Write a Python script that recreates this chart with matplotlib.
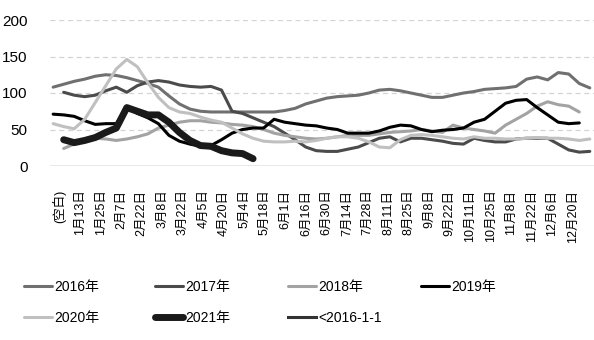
import numpy as np
import matplotlib
matplotlib.use('Agg')
import matplotlib.pyplot as plt

plt.rcParams['font.family'] = ['Liberation Sans', 'Noto Sans CJK SC']

nan = np.nan

# weekly values, one list per year
x_labels = ['(空白)', '1月13日', '1月25日', '2月7日', '2月22日', '3月8日', '3月22日',
            '4月5日', '4月20日', '5月4日', '5月18日', '6月1日', '6月16日', '6月30日',
            '7月14日', '7月28日', '8月11日', '8月25日', '9月8日', '9月22日', '10月11日',
            '10月25日', '11月8日', '11月22日', '12月6日', '12月20日']

y2016 = [108, 112, 116, 119, 123, 125, 124, 121, 117, 113, 108, 96, 85, 78, 75, 74, 74, 74,
         74, 74, 74, 74, 76, 79, 85, 89, 93, 95, 96, 97, 100, 104, 105, 103, 100, 97, 94, 94,
         97, 100, 102, 105, 106, 107, 109, 119, 122, 118, 128, 126, 113, 107]
y2017 = [nan, 101, 97, 95, 97, 103, 108, 101, 110, 115, 117, 115, 111, 109, 108, 109, 104, 75,
         72, 66, 60, 54, 45, 36, 26, 21, 20, 20, 23, 26, 32, 38, 40, 33, 38, 38, 36, 34, 31, 30,
         38, 35, 33, 33, 37, 38, 38, 38, 30, 22, 19, 20]
y2018 = [nan, 24, 30, 36, 38, 37, 35, 37, 40, 44, 52, 56, 60, 62, 62, 60, 59, 57, 56, 54, 50,
         45, 42, 40, 38, 37, 38, 40, 42, 42, 42, 44, 46, 47, 48, 50, 48, 46, 56, 52, 50, 48, 45,
         56, 64, 72, 82, 88, 84, 82, 74, nan]
y2019 = [71, 70, 68, 62, 57, 58, 58, 80, 72, 66, 58, 42, 34, 30, 27, 28, 36, 45, 50, 52, 52,
         64, 60, 58, 56, 55, 52, 50, 45, 45, 45, 48, 53, 56, 55, 50, 47, 49, 50, 52, 60, 64, 75,
         86, 90, 91, 80, 70, 60, 58, 59, nan]
y2020 = [58, 54, 51, 64, 87, 110, 133, 146, 136, 114, 94, 80, 74, 72, 67, 63, 60, 52, 44, 38,
         34, 33, 33, 34, 33, 35, 38, 40, 40, 38, 33, 26, 25, 36, 42, 43, 42, 40, 38, 37, 40, 38,
         38, 37, 37, 38, 39, 38, 38, 37, 35, 37]
y2021 = [nan, 36, 32, 35, 39, 46, 52, 80, 75, 70, 70, 60, 46, 35, 28, 27, 21, 18, 17, 10] + [nan] * 32

series = [
    ('2016年', y2016, '#707070', 2.2),
    ('2017年', y2017, '#4b4b4b', 2.2),
    ('2018年', y2018, '#a3a3a3', 2.2),
    ('2019年', y2019, '#000000', 2.2),
    ('2020年', y2020, '#c0c0c0', 2.2),
    ('2021年', y2021, '#1a1a1a', 5.0),
]

fig = plt.figure(figsize=(5.94, 3.4), dpi=100)
ax = fig.add_axes([50 / 594, 1 - 166 / 340, 544 / 594, 146 / 340])

x = np.arange(len(y2016))
handles = {}
for name, vals, col, lw in series:
    h, = ax.plot(x, vals, color=col, lw=lw, solid_capstyle='round', solid_joinstyle='round')
    handles[name] = h
# empty series that only shows up in the legend
h, = ax.plot([], [], color='#333333', lw=2.2)
handles['<2016-1-1'] = h

ax.set_ylim(0, 200)
ax.set_xlim(-0.3, 51.4)
ax.set_yticks([0, 50, 100, 150, 200])
for v in [50, 100, 150, 200]:
    ax.axhline(v, color='#d4d4d4', lw=0.9, ls=(0, (4, 3)), zorder=0)
ax.axhline(0, color='#e4e4e4', lw=1.2, zorder=0)

ax.set_xticks(np.linspace(0.6, 49.4, len(x_labels)))
ax.set_xticklabels(x_labels, rotation=90, fontsize=9)
ax.tick_params(axis='x', length=0, pad=17)
ax.tick_params(axis='y', length=0, pad=16, labelsize=11)
for s in ax.spines.values():
    s.set_visible(False)

# legend laid out as four columns, two rows
cols = [
    (24, ['2016年', '2020年']),
    (155, ['2017年', '2021年']),
    (288, ['2018年', '<2016-1-1']),
    (421, ['2019年']),
]
for xpix, names in cols:
    fig.legend([handles[n] for n in names], names, loc='upper left',
               bbox_to_anchor=(xpix / 594, 1 - 280 / 340), frameon=False,
               fontsize=10, handlelength=2.0, handletextpad=0.2,
               labelspacing=1.2, borderpad=0, borderaxespad=0)

fig.savefig('out.png', dpi=100)
